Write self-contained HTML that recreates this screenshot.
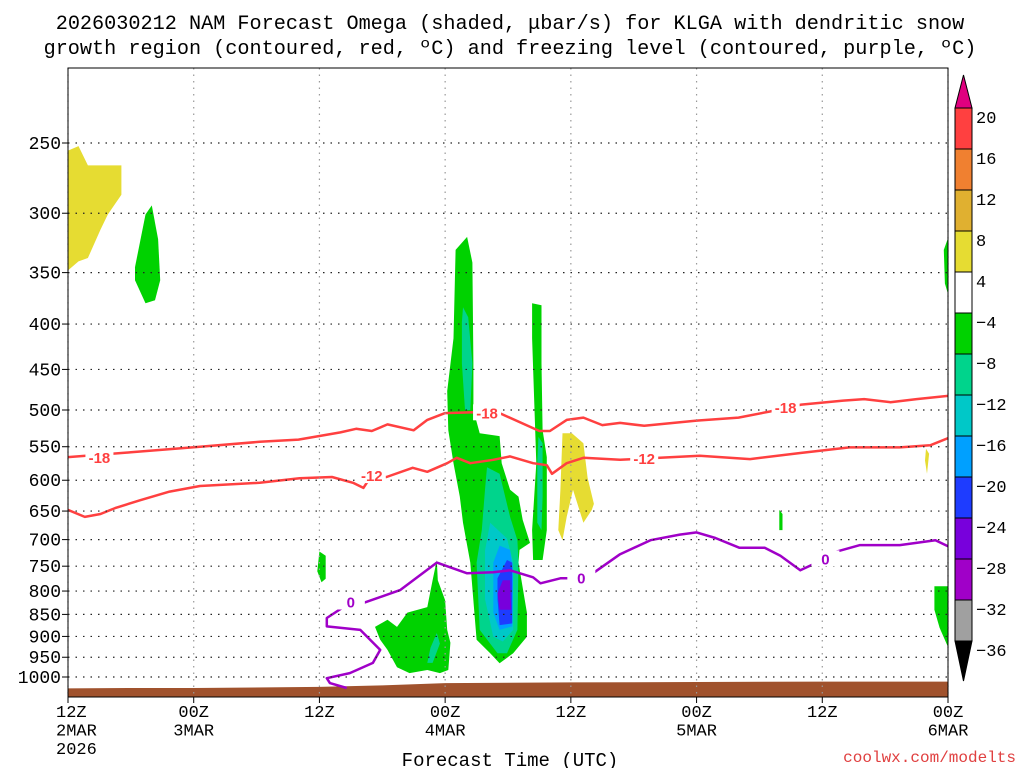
<!DOCTYPE html>
<html><head><meta charset="utf-8"><style>
body{margin:0;background:#fff;width:1024px;height:768px;overflow:hidden}
svg{display:block;font-family:"Liberation Mono",monospace}
</style></head><body>
<svg id="chart" width="1024" height="768" viewBox="0 0 1024 768">
<text x="510" y="29" font-size="20.2" text-anchor="middle">2026030212 NAM Forecast Omega (shaded, μbar/s) for KLGA with dendritic snow</text>
<text x="510" y="54" font-size="20.2" text-anchor="middle">growth region (contoured, red, ºC) and freezing level (contoured, purple, ºC)</text>
<g id="plot"></g>
<text x="510" y="766" font-size="19" text-anchor="middle">Forecast Time (UTC)</text>
<text x="1016" y="762" font-size="16" fill="#e04040" text-anchor="end">coolwx.com/modelts</text>
</svg>
<script>
const pLevels=[250,300,350,400,450,500,550,600,650,700,750,800,850,900,950,1000];
const xTickHours=[0,12,24,36,48,60,72,84];
const xTickL1=["12Z","00Z","12Z","00Z","12Z","00Z","12Z","00Z"];
const xTickL2=["2MAR","3MAR","","4MAR","","5MAR","","6MAR"];
const xTickL3=["2026","","","","","","",""];
const cbLabels=["20","16","12","8","4","−4","−8","−12","−16","−20","−24","−28","−32","−36"];
const cbColors=["#ff4040","#f08030","#e0b030","#e6dc32","#ffffff","#00d200","#00d48c","#00c8c8","#00a0ff","#1e3cff","#7800dc","#a000c8","#a0a0a0"];
const sfcHours=[0,6,12,24,30,36,48,60,72,84];
const sfcPres=[1030,1029,1029,1026,1022,1016,1014,1013,1012,1012];
const iso18=[[0,565],[6,558],[12.6,550],[18.3,543],[22,540],[26,530],[27.5,525],[29,528],[30.5,519],[33,527],[34.3,513],[36,504],[38.7,503],[41.2,504],[45,528],[46,528],[47.6,513],[49.2,510],[51,520],[52.7,517],[55,521],[60,514],[64,510],[67,502],[70,493],[74,488],[76,486],[78.5,490],[81,486],[84,482]];
const iso12=[[0,648],[1.6,660],[3.1,655],[4.5,645],[6.9,632],[9.7,618],[12.6,609],[18.3,604],[22.1,597],[25.2,595],[27.2,604],[28.2,612],[28.8,597],[30.4,595],[32.9,581],[34.3,587],[36.2,574],[37.1,566],[38.4,574],[40.6,569],[42.2,564],[44.4,574],[45.7,577],[46.2,590],[47.6,574],[49.2,566],[52.7,569],[60.3,563],[65.1,568],[69.9,559],[74.6,551],[79.4,551],[82.3,548],[84,538]];
const frzA=[[26.6,1029],[25,1016],[24.7,1003],[26.9,990],[29.1,964],[29.8,932],[27.9,885],[24.7,877],[24.7,858],[26.3,834],[28.2,825],[31.7,798],[35.2,743],[38.1,764],[40.6,762],[42.2,758],[44.4,772],[45.1,784],[47,774],[48.9,774],[50.1,764],[52.7,727],[55.6,701],[58.4,691],[60,687],[61.8,697],[64.1,715],[66.5,715],[68,730],[69.9,758],[71.8,740],[73.2,723],[75.6,710],[79.4,710],[82.8,701],[84,712]];
const shade=[
 ["#e6dc32",[[0,255],[1,252],[1.9,265],[5.1,265],[5.1,286],[3.8,301],[3.1,313],[1.9,337],[1,340],[0,348]]],
 ["#00d200",[[6.4,345],[7.4,301],[8,294],[8.6,321],[8.8,357],[8.3,376],[7.4,379],[6.4,357]]],
 ["#00d200",[[38.1,319],[38.6,341],[38.7,443],[38.7,500],[39.3,531],[41.2,535],[41.4,574],[42.2,615],[43,626],[43.4,665],[44.1,706],[43.1,719],[43,743],[43.8,846],[43.8,901],[42.5,940],[41.2,965],[40.3,940],[39,908],[38.4,743],[37.7,670],[37.4,626],[36.8,574],[36.3,527],[36.2,476],[36.8,415],[37,330]]],
 ["#00d48c",[[37.7,383],[38.2,393],[38.6,443],[38.4,500],[37.9,500],[37.6,443],[37.6,398]]],
 ["#00d48c",[[40,580],[41.2,590],[42.2,660],[42.9,701],[43,743],[42.9,885],[41.9,940],[41,940],[39.3,885],[39,743],[39.5,683],[39.8,615]]],
 ["#00c8c8",[[40.3,670],[41.9,698],[42.5,743],[42.5,885],[41.5,912],[40.6,901],[39.8,817],[39.8,720]]],
 ["#00a0ff",[[41.2,711],[42.2,719],[42.5,760],[42.4,877],[41.2,885],[40.6,846],[40.6,743]]],
 ["#1e3cff",[[41.9,738],[42.4,743],[42.4,870],[41.2,874],[41,817],[41,774]]],
 ["#7800dc",[[41.5,778],[42.2,778],[42.3,840],[41.2,840],[41,805]]],
 ["#00d200",[[44.3,379],[45.2,381],[45.2,443],[45.3,527],[45.7,565],[45.7,683],[45.3,738],[44.4,738],[44.3,683],[44.7,574],[44.3,415]]],
 ["#00d48c",[[44.9,536],[45.3,545],[45.3,626],[45.2,683],[44.8,670],[44.8,574]]],
 ["#e6dc32",[[47.2,531],[48.1,531],[49.2,545],[49.6,596],[50.2,638],[50,648],[49.2,670],[48.2,615],[47.6,660],[47.2,701],[46.8,683],[47,615]]],
 ["#00d200",[[29.3,878],[30.5,862],[31.4,878],[32.4,846],[34.3,834],[34.8,778],[35.2,738],[35.3,778],[36,819],[36.2,885],[36.5,915],[36.3,982],[35.5,990],[34.3,982],[32.6,990],[31.4,975],[30.5,932],[29.8,908]]],
 ["#00d48c",[[35.2,892],[35.5,917],[34.8,964],[34.3,964],[34.6,927]]],
 ["#00d200",[[24,722],[24.6,730],[24.6,775],[24.2,782],[23.8,760]]],
 ["#00d200",[[67.9,648],[68.2,655],[68.2,683],[67.9,683]]],
 ["#e6dc32",[[81.9,553],[82.2,560],[82,590],[81.8,570]]],
 ["#00d200",[[83.6,330],[84,320],[84,370],[83.7,360]]],
 ["#00d200",[[82.7,790],[84,790],[84,925],[83.2,880],[82.7,840]]]
];
const lbl18=[[3,565],[40,503],[68.5,496]];
const lbl12=[[29,592],[55,566]];
const lbl0=[[27,822],[49,772],[72.3,735]];

const NS='http://www.w3.org/2000/svg';
const X0=68,X1=948,Y0=68,Y1=697;
const xs=h=>X0+h*(X1-X0)/84;
const ys=p=>143+385.2*Math.log(p/250);
const g=document.getElementById('plot');
function mk(t,a,parent){const e=document.createElementNS(NS,t);for(const k in a)e.setAttribute(k,a[k]);(parent||g).appendChild(e);return e;}
const pts=arr=>arr.map(d=>xs(d[0]).toFixed(1)+','+ys(d[1]).toFixed(1)).join(' ');
const clip=mk('clipPath',{id:'pc'});mk('rect',{x:X0,y:Y0,width:X1-X0,height:Y1-Y0},clip);
const inner=mk('g',{'clip-path':'url(#pc)'});
shade.forEach((s,i)=>{const e=mk('polygon',{points:pts(s[1]),fill:s[0]},inner);

});
let gp=sfcHours.map((h,i)=>[h,sfcPres[i]]);
const gpoly=mk('polygon',{points:pts(gp)+' '+X1+','+Y1+' '+X0+','+Y1,fill:'#a0522d'},inner);


pLevels.forEach(p=>{const l=mk('line',{x1:X0,x2:X1,y1:ys(p),y2:ys(p),stroke:'#222','stroke-width':1.2,'stroke-dasharray':'1.5 6'});


mk('line',{x1:X0-6,x2:X0,y1:ys(p),y2:ys(p),stroke:'#000'});
const tx=mk('text',{x:X0-7,y:ys(p)+6,'font-size':18,'text-anchor':'end'});tx.textContent=p;

});
xTickHours.forEach((h,i)=>{const x=xs(h);
const l=mk('line',{x1:x,x2:x,y1:Y0,y2:Y1,stroke:'#999','stroke-width':1.2,'stroke-dasharray':'1.5 5'});


mk('line',{x1:x,x2:x,y1:Y1,y2:Y1+6,stroke:'#000'});
[xTickL1[i],xTickL2[i],xTickL3[i]].forEach((s,j)=>{if(!s)return;const t=mk('text',{x:i===0?x-12:x,y:717+j*18.5,'font-size':17,'text-anchor':i===0?'start':'middle'});t.textContent=s;

});});
function line(d,c,name){const e=mk('polyline',{points:pts(d),fill:'none',stroke:c,'stroke-width':2.5,'stroke-linejoin':'round'},inner);

}
line(iso18,'#ff4040','isotherm-minus18');
line(iso12,'#ff4040','isotherm-minus12');
line(frzA,'#a000c8','freezing-level');
function labels(arr,txt,c){arr.forEach(d=>{const x=xs(d[0]),y=ys(d[1]);
mk('rect',{x:x-14,y:y-8,width:28,height:16,fill:'#fff'});
const t=mk('text',{x:x,y:y+6,'font-size':15,'font-weight':'bold',fill:c,'text-anchor':'middle','font-family':'Liberation Sans, sans-serif'});t.textContent=txt;

});}
labels(lbl18,'-18','#ff4040');labels(lbl12,'-12','#ff4040');labels(lbl0,'0','#a000c8');
mk('rect',{x:X0,y:Y0,width:X1-X0,height:Y1-Y0,fill:'none',stroke:'#000','stroke-width':1});
const cb=mk('g',{});
const bx=955,bw=17,b0=108,bs=41;
mk('polygon',{points:`${bx},${b0} ${bx+bw},${b0} ${bx+bw/2},${b0-33}`,fill:'#e0007f',stroke:'#000'},cb);
cbColors.forEach((c,i)=>{mk('rect',{x:bx,y:b0+i*bs,width:bw,height:bs,fill:c,stroke:'#000'},cb);});
const bb=b0+cbColors.length*bs;
mk('polygon',{points:`${bx},${bb} ${bx+bw},${bb} ${bx+bw/2},${bb+40}`,fill:'#000',stroke:'#000'},cb);
cbLabels.forEach((s,i)=>{const t=mk('text',{x:976,y:b0+i*bs+15,'font-size':17},cb);t.textContent=s;

});
</script>
</body></html>
